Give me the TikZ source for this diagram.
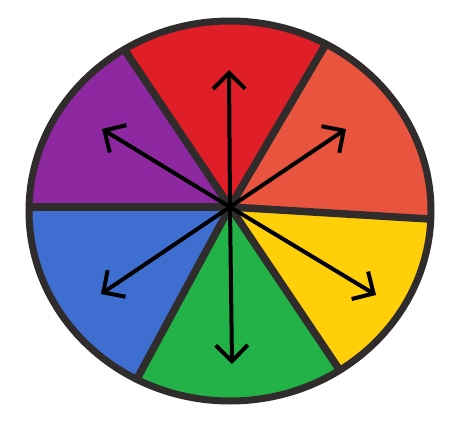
\documentclass[tikz,border=0pt]{standalone}
\usetikzlibrary{arrows.meta,calc}
\definecolor{wred}{RGB}{223,30,40}
\definecolor{worange}{RGB}{233,84,62}
\definecolor{wyellow}{RGB}{255,208,10}
\definecolor{wgreen}{RGB}{34,178,72}
\definecolor{wblue}{RGB}{62,110,208}
\definecolor{wpurple}{RGB}{142,40,160}
\definecolor{ringgray}{RGB}{48,44,44}
\begin{document}
\begin{tikzpicture}[x=1pt,y=-1pt,
  spoke/.style={line width=7.5pt, draw=ringgray},
  ring/.style={line width=7pt, draw=ringgray},
  ray/.style={line width=4pt, draw=black, line cap=round, -{Straight Barb[length=16pt,width=32pt]}}]
\useasboundingbox (0,0) rectangle (458,423);
\coordinate (c) at (230,207);
\coordinate (pTL) at (120,43);
\coordinate (pTR) at (330,37);
\coordinate (pR) at (429,219);
\coordinate (pBR) at (347,381);
\coordinate (pBL) at (132,388);
\coordinate (pL) at (28,207);
\coordinate (aT) at (229,70);
\coordinate (aB) at (232,364);
\coordinate (aTL) at (102,129);
\coordinate (aTR) at (346,129);
\coordinate (aBL) at (101,294);
\coordinate (aBR) at (376,295);
\begin{scope}
  \clip (230,211) ellipse [x radius=201, y radius=190];
  \fill[wred] (c) -- ($(c)!3!(pTL)$) -- ($(c)!3!(pTR)$) -- cycle;
  \fill[worange] (c) -- ($(c)!3!(pTR)$) -- ($(c)!3!(pR)$) -- cycle;
  \fill[wyellow] (c) -- ($(c)!3!(pR)$) -- ($(c)!3!(pBR)$) -- cycle;
  \fill[wgreen] (c) -- ($(c)!3!(pBR)$) -- ($(c)!3!(pBL)$) -- cycle;
  \fill[wblue] (c) -- ($(c)!3!(pBL)$) -- ($(c)!3!(pL)$) -- cycle;
  \fill[wpurple] (c) -- ($(c)!3!(pL)$) -- ($(c)!3!(pTL)$) -- cycle;
  \foreach \p in {pTL,pTR,pR,pBR,pBL,pL}
    \draw[spoke] (c) -- ($(c)!1.3!(\p)$);
\end{scope}
\draw[ring] (230,211) ellipse [x radius=201, y radius=190];
\foreach \a in {aT,aB,aTL,aTR,aBL,aBR}
  \draw[ray] (c) -- (\a);
\end{tikzpicture}
\end{document}
